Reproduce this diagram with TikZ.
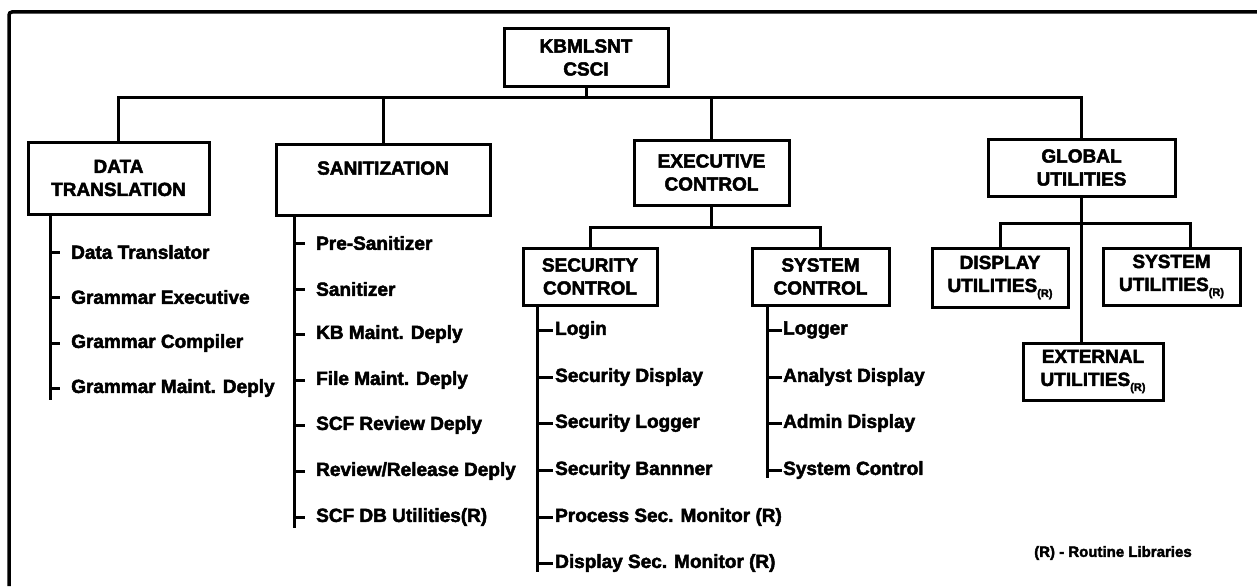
\documentclass[tikz,border=0pt]{standalone}
\usepackage{fontspec}
\newfontfamily\heavy{Liberation Sans}[UprightFont={* Bold}, UprightFeatures={FakeBold=2.5}]
\newcommand{\rsub}{\raisebox{-5pt}{\fontsize{11}{11}\selectfont(R)}}
\begin{document}
\begin{tikzpicture}[x=1pt,y=-1pt,
  every node/.style={font=\heavy\fontsize{19}{23}\selectfont},
  box/.style={draw, line width=3pt, align=center, inner sep=0pt},
  item/.style={anchor=west, inner sep=0pt},
  wire/.style={line width=3pt},
  frame/.style={line width=3.5pt, rounded corners=3pt}]
\useasboundingbox (0,0) rectangle (1257,586);
% page frame (top and left edges)
\draw[frame] (9,586) -- (9,12) -- (1257,12);

% top level
\node[box, minimum width=164pt, minimum height=57pt] (top) at (586,57.5) {KBMLSNT\\CSCI};

% second level
\node[box, minimum width=181pt, minimum height=72pt] (data) at (118.5,178) {DATA\\TRANSLATION};
\node[box, minimum width=214pt, minimum height=71pt] (san) at (383,179.5) {SANITIZATION\\\mbox{}};
\node[box, minimum width=155pt, minimum height=65pt] (exec) at (711.5,172.5) {EXECUTIVE\\CONTROL};
\node[box, minimum width=187pt, minimum height=57pt] (global) at (1081.5,167.5) {GLOBAL\\UTILITIES};

% third level
\node[box, minimum width=134pt, minimum height=57pt] (sec) at (590,276.5) {SECURITY\\CONTROL};
\node[box, minimum width=137pt, minimum height=57pt] (sys) at (820.5,276.5) {SYSTEM\\CONTROL};
\node[box, minimum width=136pt, minimum height=59pt] (dispu) at (1000,277.5) {DISPLAY\\UTILITIES\rsub};
\node[box, minimum width=137pt, minimum height=57pt] (sysu) at (1171.5,276.5) {SYSTEM\\UTILITIES\rsub};
\node[box, minimum width=140pt, minimum height=57pt] (ext) at (1093,371.5) {EXTERNAL\\UTILITIES\rsub};

% main bus
\coordinate (bus) at (0,97);
\draw[wire] (top.south) -- (top.south |- bus);
\draw[wire] (data.north) -- (data.north |- bus) -- (global.north |- bus) -- (global.north);
\draw[wire] (san.north) -- (san.north |- bus);
\draw[wire] (exec.north) -- (exec.north |- bus);

% executive control branch
\coordinate (xbus) at (0,227);
\draw[wire] (exec.south) -- (exec.south |- xbus);
\draw[wire] (sec.north) -- (sec.north |- xbus) -- (sys.north |- xbus) -- (sys.north);

% global utilities branch
\coordinate (gbus) at (0,223);
\draw[wire] (global.south) -- (global.south |- ext.north);
\draw[wire] (dispu.north) -- (dispu.north |- gbus) -- ([xshift=19pt]sysu.north |- gbus) -- ([xshift=19pt]sysu.north);

% data translation components
\node[item] (d1) at (71,252) {Data Translator};
\node[item] (d2) at (71,297) {Grammar Executive};
\node[item] (d3) at (71,343) {Grammar Compiler};
\node[item] (d4) at (71,388) {Grammar Maint. Deply};
\coordinate (dend) at (50,400);
\draw[wire] (data.south -| dend) -- (dend);
\foreach \n in {d1,d2,d3,d4} \draw[wire] (\n.west -| dend) -- ([xshift=-11pt]\n.west);

% sanitization components
\node[item] (s1) at (316,243) {Pre-Sanitizer};
\node[item] (s2) at (316,289) {Sanitizer};
\node[item] (s3) at (316,334) {KB Maint. Deply};
\node[item] (s4) at (316,380) {File Maint. Deply};
\node[item] (s5) at (316,425) {SCF Review Deply};
\node[item] (s6) at (316,471) {Review/Release Deply};
\node[item] (s7) at (316,517) {SCF DB Utilities(R)};
\coordinate (send) at (294,528);
\draw[wire] (san.south -| send) -- (send);
\foreach \n in {s1,s2,s3,s4,s5,s6,s7} \draw[wire] (\n.west -| send) -- ([xshift=-11pt]\n.west);

% security control components
\node[item] (c1) at (555,330) {Login};
\node[item] (c2) at (555,377) {Security Display};
\node[item] (c3) at (555,423) {Security Logger};
\node[item] (c4) at (555,470) {Security Bannner};
\node[item] (c5) at (555,517) {Process Sec. Monitor (R)};
\node[item] (c6) at (555,563) {Display Sec. Monitor (R)};
\coordinate (cend) at (537,572);
\draw[wire] (sec.south -| cend) -- (cend);
\foreach \n in {c1,c2,c3,c4,c5,c6} \draw[wire] (\n.west -| cend) -- ([xshift=-2pt]\n.west);

% system control components
\node[item] (y1) at (783,330) {Logger};
\node[item] (y2) at (783,377) {Analyst Display};
\node[item] (y3) at (783,423) {Admin Display};
\node[item] (y4) at (783,470) {System Control};
\coordinate (yend) at (767,478);
\draw[wire] (sys.south -| yend) -- (yend);
\foreach \n in {y1,y2,y3,y4} \draw[wire] (\n.west -| yend) -- ([xshift=-1pt]\n.west);

% legend
\node[item, font=\heavy\fontsize{15}{18}\selectfont] (legend) at (1034,553) {(R) - Routine Libraries};
\end{tikzpicture}
\end{document}
